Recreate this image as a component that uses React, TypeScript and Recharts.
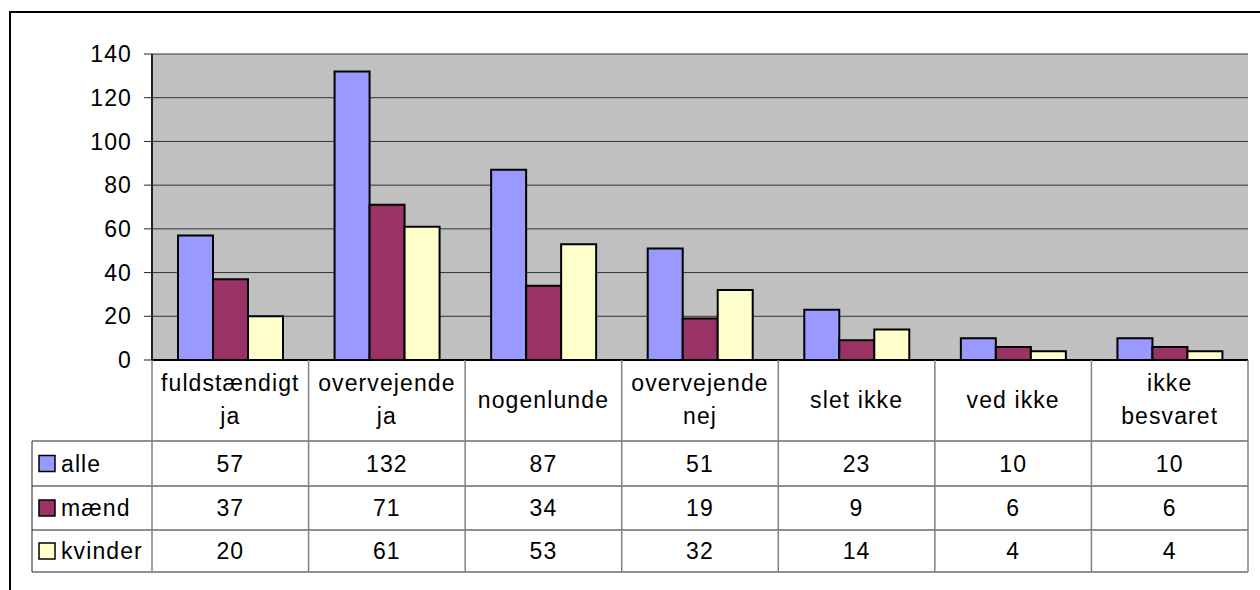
import { BarChart, Bar, XAxis, YAxis, CartesianGrid } from 'recharts';

// category labels ("\n" = line break in the table header)
const categories = [
  'fuldstændigt\nja',
  'overvejende\nja',
  'nogenlunde',
  'overvejende\nnej',
  'slet ikke',
  'ved ikke',
  'ikke\nbesvaret',
];
const alle = [57, 132, 87, 51, 23, 10, 10];
const maend = [37, 71, 34, 19, 9, 6, 6];
const kvinder = [20, 61, 53, 32, 14, 4, 4];
const yTicks = [0, 20, 40, 60, 80, 100, 120, 140];

const series = [
  { key: 'alle', name: 'alle', values: alle, color: '#9999FF' },
  { key: 'maend', name: 'mænd', values: maend, color: '#993366' },
  { key: 'kvinder', name: 'kvinder', values: kvinder, color: '#FFFFCC' },
];

const data = categories.map((cat, i) => ({
  cat,
  alle: alle[i],
  maend: maend[i],
  kvinder: kvinder[i],
}));

const FONT = '"Liberation Sans", Arial, sans-serif';
const SPACING = 1.1;
const W = 1260;
const H = 590;
const PLOT_LEFT = 152;
const PLOT_RIGHT = 1248;
const PLOT_TOP = 54;
const PLOT_BOTTOM = 360;
const TABLE_BOTTOM = 572;
const Y_AXIS_W = 60;
const TABLE_LEFT = 32;
// row boundaries below the axis, relative to the axis line
const ROWS = [81, 126, 170, 212];
const band = (PLOT_RIGHT - PLOT_LEFT) / categories.length;

const TableTick = (props: any) => {
  const { x, y, payload } = props;
  const i = payload.index ?? props.index;
  const half = band / 2;
  const lines = String(payload.value).split('\n');
  const labelMid = ROWS[0] / 2 - 1;
  const lineGap = 33;

  return (
    <g fontFamily={FONT} fontSize={23} fill="#000" letterSpacing={SPACING}>
      {i === 0 && (
        <g>
          {ROWS.map((r) => (
            <line key={r} x1={TABLE_LEFT} x2={PLOT_RIGHT} y1={y + r} y2={y + r} stroke="#222" />
          ))}
          <line x1={TABLE_LEFT} x2={TABLE_LEFT} y1={y + ROWS[0]} y2={y + ROWS[3]} stroke="#222" />
          <line x1={x - half} x2={x - half} y1={y} y2={y + ROWS[3]} stroke="#808080" strokeWidth={1.5} />
          {series.map((s, k) => {
            const cy = y + (ROWS[k] + ROWS[k + 1]) / 2;
            return (
              <g key={s.key}>
                <rect x={39} y={cy - 8} width={16} height={16} fill={s.color} stroke="#000" strokeWidth={1.5} />
                <text x={61} y={cy} dy="0.36em" textAnchor="start">
                  {s.name}
                </text>
              </g>
            );
          })}
        </g>
      )}
      <line x1={x + half} x2={x + half} y1={y} y2={y + ROWS[3]} stroke="#808080" strokeWidth={1.5} />
      {lines.map((l, k) => (
        <text
          key={k}
          x={x}
          y={y + labelMid + (k - (lines.length - 1) / 2) * lineGap}
          dy="0.36em"
          textAnchor="middle"
        >
          {l}
        </text>
      ))}
      {series.map((s, k) => (
        <text key={s.key} x={x} y={y + (ROWS[k] + ROWS[k + 1]) / 2} dy="0.36em" textAnchor="middle">
          {s.values[i]}
        </text>
      ))}
    </g>
  );
};

export default function App() {
  return (
    <div
      style={{
        position: 'absolute',
        left: 0,
        top: 0,
        width: W,
        height: H,
        overflow: 'hidden',
        background: '#fff',
        fontFamily: FONT,
      }}
    >
      <div
        style={{
          position: 'absolute',
          left: 9,
          top: 11,
          width: 1400,
          height: 800,
          border: '2px solid #000',
        }}
      />
      <div style={{ position: 'absolute', left: 0, top: 0 }}>
        <BarChart
          width={W}
          height={H}
          data={data}
          barGap={0}
          barSize={35}
          margin={{
            top: PLOT_TOP,
            right: W - PLOT_RIGHT,
            left: PLOT_LEFT - Y_AXIS_W,
            bottom: H - TABLE_BOTTOM,
          }}
        >
          <CartesianGrid vertical={false} fill="#C0C0C0" fillOpacity={1} stroke="#333" />
          <XAxis
            dataKey="cat"
            interval={0}
            height={TABLE_BOTTOM - PLOT_BOTTOM}
            tickSize={0}
            tickMargin={0}
            tickLine={false}
            axisLine={{ stroke: '#000', strokeWidth: 2 }}
            tick={<TableTick />}
          />
          <XAxis
            xAxisId="top"
            dataKey="cat"
            orientation="top"
            height={0}
            tick={false}
            tickLine={false}
            axisLine={{ stroke: '#808080', strokeWidth: 2 }}
          />
          <YAxis
            width={Y_AXIS_W}
            domain={[0, 140]}
            ticks={yTicks}
            interval={0}
            tickSize={8}
            tickMargin={12}
            axisLine={{ stroke: '#222', strokeWidth: 2 }}
            tickLine={{ stroke: '#222' }}
            tick={{ fill: '#000', fontSize: 23, fontFamily: FONT, letterSpacing: SPACING }}
          />
          <YAxis
            yAxisId="right"
            orientation="right"
            width={0}
            domain={[0, 140]}
            tick={false}
            tickLine={false}
            axisLine={{ stroke: '#808080', strokeWidth: 2 }}
          />
          {series.map((s) => (
            <Bar
              key={s.key}
              dataKey={s.key}
              name={s.name}
              fill={s.color}
              stroke="#000"
              strokeWidth={2}
              isAnimationActive={false}
            />
          ))}
        </BarChart>
      </div>
    </div>
  );
}
